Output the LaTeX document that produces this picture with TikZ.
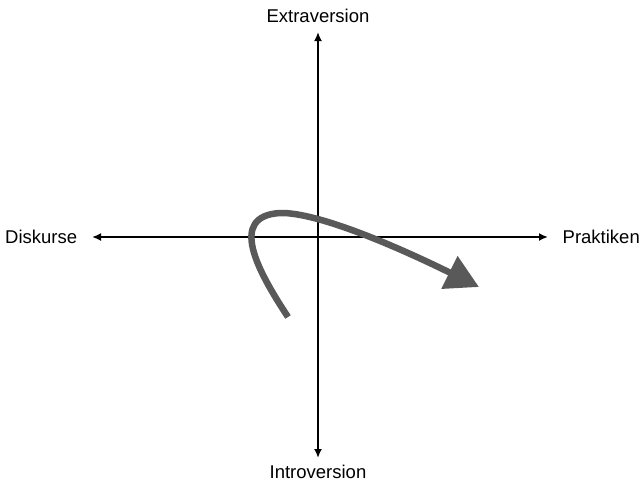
\documentclass[tikz,border=0pt]{standalone}
\usepackage{fontspec}
\setmainfont{Liberation Sans}
\usetikzlibrary{arrows.meta}
\begin{document}
\begin{tikzpicture}[x=1pt,y=-1pt,
  lbl/.style={font=\fontsize{18.5}{20}\selectfont, inner sep=0pt},
  axis/.style={line width=2pt, {Latex[length=9pt,width=8pt]}-{Latex[length=9pt,width=8pt]}},
  flow/.style={line width=6.5pt, draw={rgb,255:red,89;green,89;blue,89}, -{Triangle[length=33pt,width=35pt]}}]
\useasboundingbox (0,0) rectangle (642,483);
\node[lbl] (ex) at (318,16) {Extraversion};
\node[lbl] (in) at (318,472) {Introversion};
\node[lbl,anchor=west] (di) at (5,237) {Diskurse};
\node[lbl,anchor=east] (pr) at (640,237) {Praktiken};
\coordinate (top) at (318,32);
\coordinate (bot) at (318,458);
\coordinate (lft) at (92,237);
\coordinate (rgt) at (548,237);
\draw[axis] (bot) -- (top);
\draw[axis] (lft) -- (rgt);
\coordinate (s) at (288,317);
\coordinate (m) at (280,213);
\coordinate (e) at (479,287);
\draw[flow, line cap=butt] (s) .. controls (257,270) and (228,216) .. (m)
  .. controls (318,212) and (400,248) .. (e);
\end{tikzpicture}
\end{document}
